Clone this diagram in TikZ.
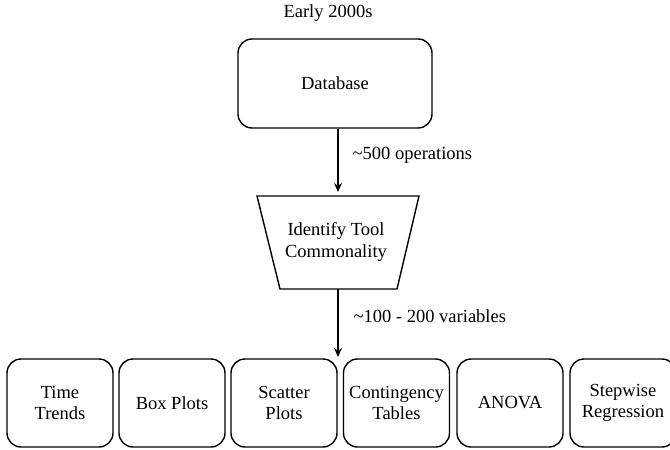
\documentclass[tikz,border=0pt]{standalone}
\usepackage{fontspec}
\setmainfont{Liberation Serif}
\usetikzlibrary{arrows.meta}
\begin{document}
\begin{tikzpicture}[x=1pt,y=-1pt,
  font=\fontsize{18.5}{21.5}\selectfont,
  line width=1.4pt,
  box/.style={draw, rounded corners=14pt, align=center, minimum width=106pt, minimum height=88pt, inner sep=0pt},
  lbl/.style={align=center, inner sep=0pt},
  arr/.style={-{Stealth[length=9pt,width=8pt]}}]
\useasboundingbox (0,0) rectangle (670,450);
\clip (0,0) rectangle (670,450);
\node[lbl] (early) at (328,13) {Early 2000s};
\node[box, minimum width=194pt, minimum height=89pt] (db) at (335,83.5) {Database};
\coordinate (t1) at (257,196);
\coordinate (t2) at (419,196);
\coordinate (t3) at (397,289);
\coordinate (t4) at (280,289);
\draw (t1) -- (t2) -- (t3) -- (t4) -- cycle;
\node[lbl] (trap) at (336,242) {Identify Tool\\Commonality};
\coordinate (ttop) at (338,192);
\coordinate (tbot) at (338,289);
\coordinate (btop) at (338,357);
\draw[arr] ([xshift=3pt]db.south) -- (ttop);
\node[lbl, anchor=west] (l1) at (352,155) {\textasciitilde500 operations};
\draw[arr] (tbot) -- (btop);
\node[lbl, anchor=west] (l2) at (353,316) {\textasciitilde100 - 200 variables};
\node[box] (b1) at (60,403) {Time\\Trends};
\node[box] (b2) at (172,403) {Box Plots};
\node[box] (b3) at (284,403) {Scatter\\Plots};
\node[box] (b4) at (396.5,403) {Contingency\\Tables};
\node[box] (b5) at (510,403) {ANOVA};
\node[box] (b6) at (623,403) {Stepwise\\Regression};
\end{tikzpicture}
\end{document}
